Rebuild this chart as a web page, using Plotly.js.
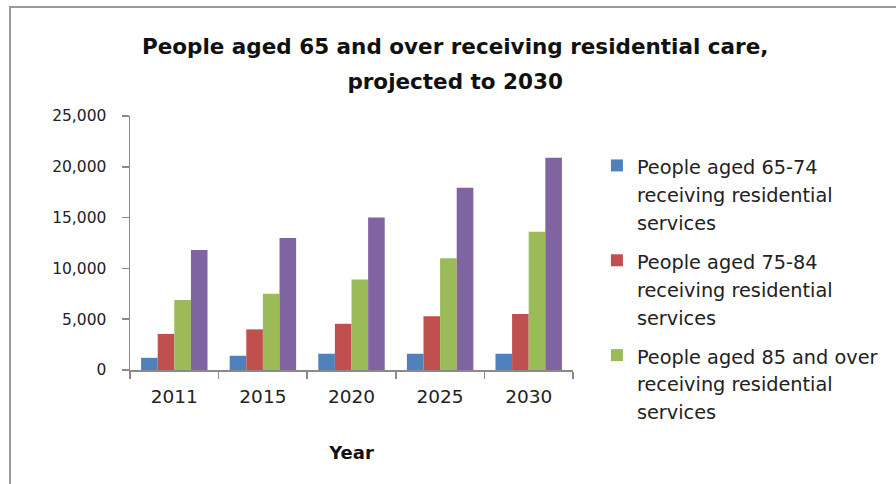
<!DOCTYPE html>
<html>
<head>
<meta charset="utf-8">
<script src="https://cdn.plot.ly/plotly-3.0.1.min.js"></script>
<style>
  html, body { margin: 0; padding: 0; background: #fff; overflow: hidden; }
  #chart { position: absolute; left: 0; top: 0; width: 896px; height: 484px; }
  #frame { position: absolute; left: 9px; top: 6px; width: 900px; height: 500px;
           border-left: 2px solid #9a9a9a; border-top: 2px solid #9a9a9a; pointer-events: none; }
</style>
</head>
<body>
<div id="chart"></div>
<div id="frame"></div>
<script>
const years = ["2011", "2015", "2020", "2025", "2030"];
const aged65to74 = [1200, 1400, 1600, 1600, 1600];
const aged75to84 = [3550, 4000, 4550, 5300, 5500];
const aged85over = [6900, 7500, 8900, 11000, 13600];
const aged65over = [11800, 13000, 15000, 17950, 20900];

const seriesNames = [
  "People aged 65-74<br>receiving residential<br>services",
  "People aged 75-84<br>receiving residential<br>services",
  "People aged 85 and over<br>receiving residential<br>services",
  "People aged 65 and over<br>receiving residential<br>services"
];
const colors = ["#4F81BD", "#C0504D", "#9BBB59", "#8064A2"];
const seriesValues = [aged65to74, aged75to84, aged85over, aged65over];

function small(txt, px) {
  return txt.split("<br>").map(s => '<span style="font-size:' + px + 'px">' + s + '</span>').join("<br>");
}

const traces = seriesValues.map((vals, i) => ({
  type: "bar",
  x: years,
  y: vals,
  name: small(seriesNames[i], 19.3),
  marker: { color: colors[i] },
  legendgroup: "g" + i,
  showlegend: i < 3,
  hoverinfo: "x+y"
}));

const font = "'DejaVu Sans', Verdana, sans-serif";
const layout = {
  width: 896, height: 484,
  paper_bgcolor: "rgba(0,0,0,0)",
  plot_bgcolor: "rgba(0,0,0,0)",
  margin: { l: 130, r: 323, t: 116, b: 114 },
  font: { family: font, color: "#222" },
  title: {
    text: "<b>" + small("People aged 65 and over receiving residential care,<br>projected to 2030", 21.5) + "</b>",
    font: { size: 27, family: font, color: "#111" },
    x: 0.508, xanchor: "center", xref: "container",
    y: 0.889, yanchor: "top", yref: "container"
  },
  barmode: "group",
  bargap: 0.25,
  bargroupgap: 0,
  xaxis: {
    type: "category",
    showline: true, linecolor: "#8a8a8a", linewidth: 1.5,
    ticks: "outside", ticklen: 7, tickcolor: "#8a8a8a", tickwidth: 1.5,
    tickson: "boundaries",
    showgrid: false, zeroline: false,
    tickfont: { size: 18.5, family: font, color: "#222" },
    ticklabelstandoff: 9,
    title: { text: "<b>Year</b>", font: { size: 18, family: font, color: "#111" }, standoff: 40 }
  },
  yaxis: {
    range: [0, 25000], dtick: 5000, tickformat: ",",
    showline: true, linecolor: "#8a8a8a", linewidth: 1.5,
    ticks: "outside", ticklen: 7, tickcolor: "#8a8a8a", tickwidth: 1.5,
    showgrid: false, zeroline: false,
    tickfont: { size: 15.5, family: font, color: "#222" },
    ticklabelstandoff: 12
  },
  legend: {
    x: 1.054, xanchor: "left", y: 0.886, yanchor: "top",
    font: { size: 21.5, family: font, color: "#222" },
    tracegroupgap: 8,
    itemwidth: 30,
    valign: "top",
    maxheight: 420
  },
  showlegend: true
};

Plotly.newPlot("chart", traces, layout, { displayModeBar: false, staticPlot: true });
</script>
</body>
</html>
